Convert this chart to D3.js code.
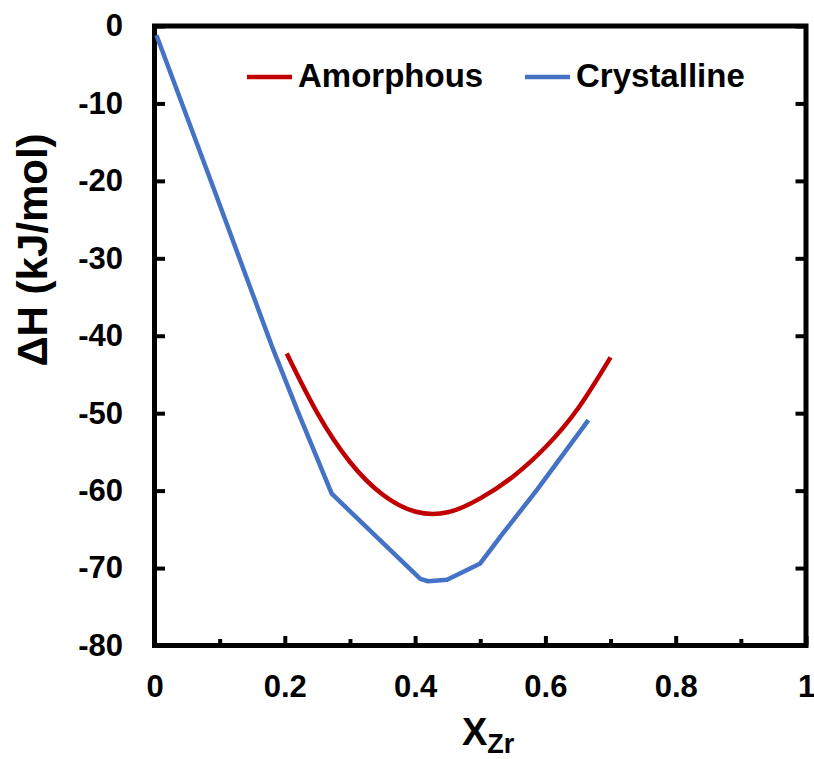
<!DOCTYPE html>
<html>
<head>
<meta charset="utf-8">
<title>Enthalpy of mixing</title>
<script src="https://d3js.org/d3.v7.min.js"></script>
<style>
  body { margin: 0; background: #fff; }
  svg text { font-family: "Liberation Sans", Arial, sans-serif; font-weight: bold; fill: #000; }
</style>
</head>
<body>
<div id="chart"></div>
<script>
// values
var amorphousX = [0.203, 0.25, 0.30, 0.35, 0.40, 0.45, 0.50, 0.55, 0.60, 0.65, 0.70];
var amorphousY = [-42.3, -50.0, -56.3, -60.5, -62.7, -62.8, -61.0, -58.2, -54.4, -49.4, -42.8];

var crystalX = [0.003, 0.09, 0.18, 0.221, 0.272, 0.408, 0.42, 0.449, 0.5, 0.535, 0.587, 0.666];
var crystalY = [-1.2, -20.8, -41.3, -50, -60.4, -71.4, -71.7, -71.5, -69.4, -65.5, -59.9, -50.9];

var xMajor = [0, 0.2, 0.4, 0.6, 0.8, 1];
var xMinor = [0.1, 0.3, 0.5, 0.7, 0.9];
var yTicks = [0, -10, -20, -30, -40, -50, -60, -70, -80];

var W = 814, H = 759;
var pLeft = 154.5, pRight = 806, pTop = 26, pBottom = 645.5;

var svg = d3.select("#chart").append("svg")
  .attr("width", W).attr("height", H);

var x = d3.scaleLinear().domain([0, 1]).range([pLeft, pRight]);
var y = d3.scaleLinear().domain([-80, 0]).range([pBottom, pTop]);

// bottom axis, major ticks + labels
var xAxis = svg.append("g")
  .attr("transform", "translate(0," + pBottom + ")")
  .call(d3.axisBottom(x).tickValues(xMajor).tickSize(-9.5).tickPadding(29.5)
        .tickFormat(function(d) { return d === 0 || d === 1 ? d : d.toFixed(1); }));
xAxis.selectAll("text").style("font-size", "31px");

// minor ticks
svg.append("g")
  .attr("transform", "translate(0," + pBottom + ")")
  .call(d3.axisBottom(x).tickValues(xMinor).tickSize(-6.5).tickFormat(""));

// left axis (plain hyphen for the minus sign, as in the original)
var yAxis = svg.append("g")
  .attr("transform", "translate(" + pLeft + ",0)")
  .call(d3.axisLeft(y).tickValues(yTicks).tickSize(-10.5).tickPadding(31.5)
        .tickFormat(function(d) { return String(d); }));
yAxis.selectAll("text").style("font-size", "31px");

// right axis, ticks only
svg.append("g")
  .attr("transform", "translate(" + pRight + ",0)")
  .call(d3.axisRight(y).tickValues(yTicks).tickSize(-10.5).tickFormat(""));

svg.selectAll(".domain").remove();
svg.selectAll(".tick line").attr("stroke", "#000").attr("stroke-width", 4);

// frame
svg.append("rect")
  .attr("x", pLeft).attr("y", pTop)
  .attr("width", pRight - pLeft).attr("height", pBottom - pTop)
  .attr("fill", "none").attr("stroke", "#000").attr("stroke-width", 5);

// lines
var amorphous = amorphousX.map(function(d, i) { return [d, amorphousY[i]]; });
var crystal = crystalX.map(function(d, i) { return [d, crystalY[i]]; });

var smooth = d3.line()
  .x(function(d) { return x(d[0]); })
  .y(function(d) { return y(d[1]); })
  .curve(d3.curveNatural);
var straight = d3.line()
  .x(function(d) { return x(d[0]); })
  .y(function(d) { return y(d[1]); });

svg.append("path").datum(crystal)
  .attr("d", straight)
  .attr("fill", "none").attr("stroke", "#4472C4").attr("stroke-width", 4.5)
  .attr("stroke-linejoin", "round");

svg.append("path").datum(amorphous)
  .attr("d", smooth)
  .attr("fill", "none").attr("stroke", "#C00000").attr("stroke-width", 4.5);

// legend
var legend = [
  {name: "Amorphous", color: "#C00000", x0: 247},
  {name: "Crystalline", color: "#4472C4", x0: 525}
];
legend.forEach(function(l) {
  svg.append("line")
    .attr("x1", l.x0).attr("x2", l.x0 + 45)
    .attr("y1", 77).attr("y2", 77)
    .attr("stroke", l.color).attr("stroke-width", 4.5);
  svg.append("text")
    .attr("x", l.x0 + 51).attr("y", 87)
    .style("font-size", "33px")
    .text(l.name);
});

// axis titles
svg.append("text")
  .attr("transform", "translate(47,250) rotate(-90)")
  .attr("text-anchor", "middle")
  .style("font-size", "42px")
  .text("ΔH (kJ/mol)");

var xt = svg.append("text")
  .attr("x", 462).attr("y", 745)
  .style("font-size", "38px");
xt.append("tspan").text("X");
xt.append("tspan").attr("dy", 8).style("font-size", "27px").text("Zr");
</script>
</body>
</html>
